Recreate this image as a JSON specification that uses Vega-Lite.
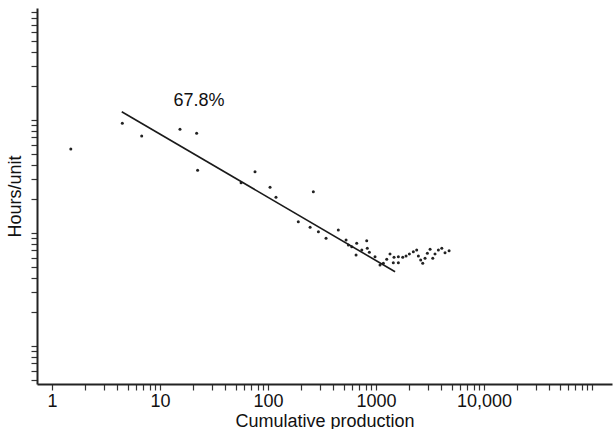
{
  "$schema": "https://vega.github.io/schema/vega-lite/v6.json",
  "autosize": {"type": "none"},
  "width": 575,
  "height": 376,
  "padding": {"left": 37, "top": 8, "right": 4, "bottom": 45},
  "background": "white",
  "config": {
    "view": {"stroke": null},
    "font": "Liberation Sans",
    "axis": {"grid": false, "domainColor": "#222", "domainWidth": 2, "tickColor": "#333", "tickWidth": 1.2, "labelColor": "#111", "titleColor": "#111", "titleFontWeight": "normal"}
  },
  "datasets": {
    "obs": [
      {"units": 1.492, "hours": 55.34},
      {"units": 4.476, "hours": 93.48},
      {"units": 6.768, "hours": 72.14},
      {"units": 15.30, "hours": 82.73},
      {"units": 21.83, "hours": 76.20},
      {"units": 22.28, "hours": 35.81},
      {"units": 56.29, "hours": 27.80},
      {"units": 75.77, "hours": 34.80},
      {"units": 104.4, "hours": 25.31},
      {"units": 118.5, "hours": 20.64},
      {"units": 190.7, "hours": 12.54},
      {"units": 245.2, "hours": 11.19},
      {"units": 262.7, "hours": 23.14},
      {"units": 292.7, "hours": 10.23},
      {"units": 344.4, "hours": 8.94},
      {"units": 447.3, "hours": 10.59},
      {"units": 527.8, "hours": 8.63},
      {"units": 554.8, "hours": 7.79},
      {"units": 596.2, "hours": 7.53},
      {"units": 653.1, "hours": 6.36},
      {"units": 662.2, "hours": 8.07},
      {"units": 737.9, "hours": 7.04},
      {"units": 819.7, "hours": 8.51},
      {"units": 830.2, "hours": 7.29},
      {"units": 867.0, "hours": 6.72},
      {"units": 978.6, "hours": 6.14},
      {"units": 1088, "hours": 5.18},
      {"units": 1169, "hours": 5.37},
      {"units": 1256, "hours": 5.82},
      {"units": 1347, "hours": 6.49},
      {"units": 1445, "hours": 5.43},
      {"units": 1467, "hours": 6.07},
      {"units": 1609, "hours": 6.14},
      {"units": 1609, "hours": 5.43},
      {"units": 1767, "hours": 6.07},
      {"units": 1896, "hours": 6.23},
      {"units": 2035, "hours": 6.49},
      {"units": 2215, "hours": 6.80},
      {"units": 2379, "hours": 7.04},
      {"units": 2465, "hours": 6.23},
      {"units": 2592, "hours": 5.74},
      {"units": 2706, "hours": 5.37},
      {"units": 2842, "hours": 5.94},
      {"units": 2987, "hours": 6.58},
      {"units": 3164, "hours": 7.14},
      {"units": 3351, "hours": 5.94},
      {"units": 3517, "hours": 6.49},
      {"units": 3777, "hours": 7.04},
      {"units": 4062, "hours": 7.29},
      {"units": 4353, "hours": 6.66},
      {"units": 4747, "hours": 6.94}
    ],
    "fit": [
      {"units": 4.422, "hours": 118.5},
      {"units": 1501, "hours": 4.518}
    ],
    "note": [
      {"units": 22.9, "hours": 147.4, "label": "67.8%"}
    ]
  },
  "encoding": {
    "x": {
      "field": "units",
      "type": "quantitative",
      "scale": {"type": "log", "domain": [0.726, 153000], "nice": false},
      "axis": {
        "title": "Cumulative production",
        "titleFontSize": 18,
        "titleBaseline": "alphabetic",
        "titleY": 42,
        "labelFontSize": 18,
        "labelPadding": 2,
        "tickSize": 6,
        "labelOverlap": false,
        "labelFlush": false,
        "values": [1,2,3,4,5,6,7,8,9,10,20,30,40,50,60,70,80,90,100,200,300,400,500,600,700,800,900,1000,2000,3000,4000,5000,6000,7000,8000,9000,10000,20000,30000,40000,50000,60000,70000,80000,90000,100000],
        "labelExpr": "datum.value == 1 ? '1' : datum.value == 10 ? '10' : datum.value == 100 ? '100' : datum.value == 1000 ? '1000' : datum.value == 10000 ? '10,000' : ''"
      }
    },
    "y": {
      "field": "hours",
      "type": "quantitative",
      "scale": {"type": "log", "domain": [0.4566, 984], "nice": false},
      "axis": {
        "title": "Hours/unit",
        "titleFontSize": 18,
        "titlePadding": 6,
        "tickSize": 6,
        "labels": false,
        "values": [0.5,0.6,0.7,0.8,0.9,1,2,3,4,5,6,7,8,9,10,20,30,40,50,60,70,80,90,100,200,300,400,500,600,700,800,900]
      }
    }
  },
  "layer": [
    {
      "data": {"name": "obs"},
      "mark": {"type": "circle", "size": 9, "color": "#222", "opacity": 1}
    },
    {
      "data": {"name": "fit"},
      "mark": {"type": "line", "color": "#1a1a1a", "strokeWidth": 1.6}
    },
    {
      "data": {"name": "note"},
      "mark": {"type": "text", "fontSize": 18, "color": "#111", "align": "center", "baseline": "middle"},
      "encoding": {"text": {"field": "label"}}
    }
  ]
}
